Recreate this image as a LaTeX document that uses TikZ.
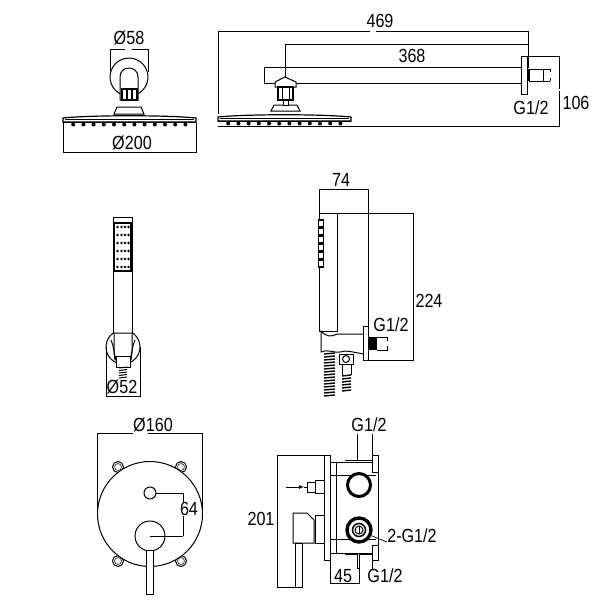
\documentclass[tikz,border=0pt]{standalone}
\usepackage{fontspec}
\setmainfont{Liberation Sans}
\tikzset{
  dimlabel/.style={inner sep=0.5pt, font=\fontsize{19}{19}\selectfont, transform shape, xscale=.85},
  part/.style={draw=black, fill=white, line width=1pt},
  dimline/.style={draw=black, line width=.7pt}
}
\begin{document}
\begin{tikzpicture}[x=1pt,y=-1pt]
    \useasboundingbox (0,0) rectangle (600,600);

    % shower heads, front and side
    \foreach \hx/\hy in {63/115,218/114} {
        \foreach \n in {1,...,12} {
            \fill[black] (\hx+\n*10.2,\hy+9.5) circle (2);
        }
        \draw[part, line width=1.2pt] (\hx,\hy+7) -- (\hx,\hy+3) .. controls (\hx+30,\hy) and (\hx+103,\hy) .. (\hx+133,\hy+3) -- (\hx+133,\hy+7) -- cycle;
        \draw[line width=1.6pt] (\hx,\hy+7.5) -- (\hx+133,\hy+7.5);
        \draw[line width=.6pt] (\hx+2,\hy+4.5) -- (\hx+131,\hy+4.5);
    }

    % front view of the head
    \draw[part] (129,77) circle (19);
    \draw[part] (120,100) -- (120,77) .. controls (120,65) and (138,65) .. (138,77) -- (138,100) -- cycle;
    \draw[part] (114,114) -- (117,107) -- (141,107) -- (144,114) -- cycle;
    \draw[part, line width=1.3pt] (122,89) rectangle (137,100);
    \draw[line width=1.3pt] (127,89) -- (127,100) (132,89) -- (132,100);
    \draw[dimline] (110,72) -- (110,49) -- (125,49);
    \draw[dimline] (132,49) -- (148,49) -- (148,72);
    \draw[dimline] (63,123) -- (63,152) -- (196,152) -- (196,123);
    \node[dimlabel] (dia58) at (129,38) {Ø58};
    \node[dimlabel] (dia200) at (132,143) {Ø200};

    % side view of the arm
    \draw[part] (264,67) rectangle (521,83);
    \draw[part] (521,56) rectangle (527,94);
    \draw[line width=1pt] (529,69) rectangle (543,81);
    \draw[line width=2pt] (529,69) -- (529,81);
    \draw[line width=1pt] (543,69) -- (550,69) (543,81) -- (550,81) (550,69) -- (550,72) (550,78) -- (550,81);
    \draw[part] (275,87) -- (275,82) -- (285,77) -- (296,82) -- (296,87) -- cycle;
    \draw[part, line width=1.3pt] (278,87) rectangle (293,100);
    \draw[line width=1pt] (282,87) -- (282,100) (289,87) -- (289,100);
    \draw[part] (271,111) -- (274,105) -- (297,105) -- (300,111) -- cycle;
    \draw[part] (283,100) rectangle (288,105);
    \draw[dimline] (218,114) -- (218,31) -- (370,31);
    \draw[dimline] (376,31) -- (528,31) -- (528,68);
    \draw[dimline] (285,77) -- (285,44) -- (528,44);
    \draw[dimline] (527,56) -- (559,56) -- (559,89);
    \draw[dimline] (218,126) -- (559,126) -- (559,91);
    \node[dimlabel] (arm469) at (380,21) {469};
    \node[dimlabel] (arm368) at (412,56) {368};
    \node[dimlabel] (armthread) at (531,108) {G1/2};
    \node[dimlabel] (arm106) at (576,103) {106};

    % hand shower, front
    \draw[part] (123,347) circle (17);
    \draw[part] (113,217) rectangle (132,333);
    \draw[black, line width=1.6pt] (114.5,223) rectangle (131,271);
    \foreach \x in {117.5,121.5,125,128.5} {
        \foreach \y in {227,235,243,251,259,267} {
            \fill[black] (\x,\y) circle (1.4);
        }
    }
    \draw[part] (114,333) -- (114,352) -- (117,364) -- (129,364) -- (132,352) -- (132,333) -- cycle;
    \draw[line width=1pt] (111,340) .. controls (114,347) and (114,352) .. (115,360);
    \draw[line width=1pt] (135,340) .. controls (132,347) and (132,352) .. (131,360);
    \draw[part] (116,356) rectangle (130,367);
    \foreach \y in {368,370.5,...,378} {
        \draw[line width=1pt] (119,\y) -- (127,\y-1);
    }
    \draw[dimline] (106,347) -- (106,396) -- (140,396) -- (140,347);
    \node[dimlabel] (dia52) at (122,387) {Ø52};

    % hand shower, side
    \draw[part] (319,213) rectangle (337,331);
    \foreach \y in {220,228,...,260} {
        \draw[line width=1.3pt, fill=white] (318.5,\y) rectangle (323.5,\y+7);
    }
    \draw[part] (321,331) -- (321,352) .. controls (328,349) and (334,353) .. (340,352) .. controls (346,350) and (352,352) .. (364,354) -- (364,334) -- (337,334) .. controls (332,337) and (326,337) .. (321,331) -- cycle;
    \draw[part] (363,326) rectangle (368,360);
    \fill[black] (368,337) rectangle (377,350);
    \draw[line width=1pt] (377,337) -- (387,337) -- (387,341) (377,350) -- (387,350) -- (387,346);
    \foreach \y in {354,357,...,396} {
        \draw[line width=1.4pt] (324,\y) -- (335,\y-1);
    }
    \draw[part] (339,354) rectangle (353,364);
    \draw[line width=1pt] (346,359) circle (3.5);
    \draw[line width=1pt] (342,364) -- (342,375) (351,364) -- (351,375);
    \foreach \y in {376,379,...,391} {
        \draw[line width=1.4pt] (342,\y) -- (351,\y-1);
    }
    \draw[dimline] (319,213) -- (319,189) -- (368,189) -- (368,326);
    \draw[dimline] (337,213) -- (413,213) -- (413,360) -- (368,360);
    \node[dimlabel] (side74) at (341,180) {74};
    \node[dimlabel] (side224) at (429,301) {224};
    \node[dimlabel] (sidethread) at (391,325) {G1/2};

    % mixer plate, front
    \foreach \x/\y in {118/467,181/467,118/561,181/561} {
        \draw[black, line width=1pt] (\x,\y) circle (5.5);
        \draw[black!70, line width=.8pt] (\x,\y) circle (3.5);
    }
    \draw[part] (150,514) circle (52.5);
    \draw[part] (150,493) circle (6);
    \draw[dimline] (156,493) -- (183,493) -- (183,536);
    \draw[part] (150,536) circle (15);
    \draw[dimline] (150,536) -- (183,536);
    \draw[part] (146,550) rectangle (153,594);
    \draw[dimline] (97,510) -- (97,433) -- (133,433);
    \draw[dimline] (148,433) -- (202,433) -- (202,510);
    \node[dimlabel] (dia160) at (153,425) {Ø160};
    \node[dimlabel, fill=white] (mix64) at (189,509) {64};

    % mixer body, side
    \draw[part] (324,455) rectangle (330,560);
    \draw[part] (330,462) rectangle (378,553);
    \draw[line width=1pt] (336,462) -- (336,553);
    \draw[line width=1pt] (330,475) -- (376,475) (330,539) -- (376,539);
    \draw[line width=1.6pt] (345,460.5) -- (378,460.5) (345,554.5) -- (378,554.5);
    \draw[part] (372,455) rectangle (378,472);
    \draw[part] (372,545) rectangle (378,560);
    \draw[line width=3pt, fill=white] (359,485) circle (11.5);
    \draw[line width=3.4pt, fill=white] (359,530) circle (12);
    \draw[line width=1.5pt] (359,530) circle (6.5);
    \draw[line width=1pt] (359,530) circle (4);
    \draw[line width=1pt] (359,526) -- (359,534);
    \draw[part] (315,480) rectangle (324,493);
    \draw[part] (307,482) rectangle (315,492);
    \draw[dimline, -latex] (286,487) -- (304,487);
    \draw[dimline] (304,487) -- (307,487);
    \draw[part] (315,515) rectangle (324,543);
    \draw[part] (293,513) -- (307,513) -- (314,520) -- (314,543) -- (293,543) -- cycle;
    \draw[part] (295,543) rectangle (302,587);
    \draw[part] (357,553) rectangle (359.5,568);
    \draw[dimline] (372,536) -- (387,542);
    \draw[dimline] (357,460) -- (357,434);
    \draw[dimline] (372,455) -- (372,434);
    \draw[dimline] (372,560) -- (372,570);
    \draw[dimline] (330,560) -- (330,583) -- (359,583) -- (359,568);
    \draw[dimline] (324,455) -- (277,455) -- (277,587) -- (295,587);
    \node[dimlabel] (top12) at (369,425) {G1/2};
    \node[dimlabel] (body201) at (261,519) {201};
    \node[dimlabel] (body2g) at (412,536) {2-G1/2};
    \node[dimlabel] (body45) at (343,576) {45};
    \node[dimlabel] (bottom12) at (385,576) {G1/2};
\end{tikzpicture}
\end{document}
